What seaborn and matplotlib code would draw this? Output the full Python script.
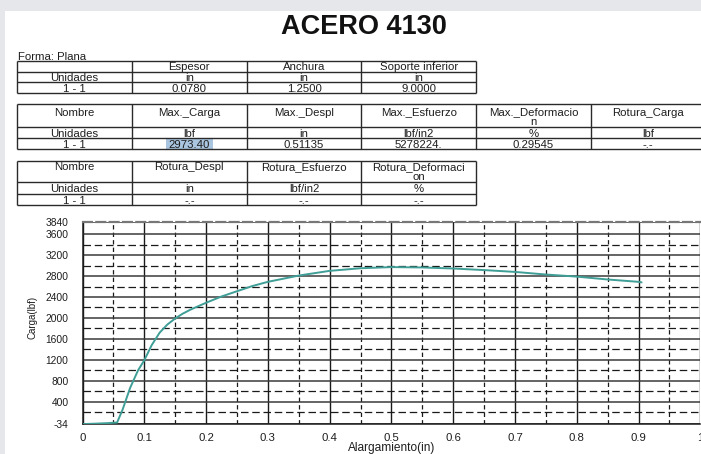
import matplotlib
matplotlib.use("Agg")
import matplotlib.pyplot as plt
import seaborn as sns
import pandas as pd
from matplotlib.patches import Rectangle
from matplotlib.ticker import FixedLocator

# ---------------- data ----------------
title = "ACERO 4130"
forma = "Forma: Plana"

t1_header = ["", "Espesor", "Anchura", "Soporte inferior"]
t1_units = ["Unidades", "in", "in", "in"]
t1_vals = ["1 - 1", "0.0780", "1.2500", "9.0000"]

t2_header = ["Nombre", "Max._Carga", "Max._Despl", "Max._Esfuerzo", "Max._Deformacio\nn", "Rotura_Carga"]
t2_units = ["Unidades", "lbf", "in", "lbf/in2", "%", "lbf"]
t2_vals = ["1 - 1", "2973.40", "0.51135", "5278224.", "0.29545", "-.-"]

t3_header = ["Nombre", "Rotura_Despl", "Rotura_Esfuerzo", "Rotura_Deformaci\non"]
t3_units = ["Unidades", "in", "lbf/in2", "%"]
t3_vals = ["1 - 1", "-.-", "-.-", "-.-"]

elong = [0.0, 0.02, 0.04, 0.056, 0.065, 0.077, 0.09, 0.10, 0.112, 0.125, 0.137,
         0.15, 0.162, 0.175, 0.20, 0.225, 0.25, 0.275, 0.30, 0.35, 0.40, 0.45,
         0.50, 0.55, 0.60, 0.65, 0.70, 0.75, 0.80, 0.85, 0.90, 0.905]
load = [-30, -22, -12, 0, 250, 660, 1000, 1190, 1480, 1720, 1870,
        1990, 2080, 2160, 2290, 2410, 2510, 2610, 2690, 2810, 2900, 2950,
        2972, 2965, 2945, 2915, 2880, 2830, 2790, 2735, 2690, 2680]

x_ticks = [0, 0.1, 0.2, 0.3, 0.4, 0.5, 0.6, 0.7, 0.8, 0.9, 1.0]
x_labels = ["0", "0.1", "0.2", "0.3", "0.4", "0.5", "0.6", "0.7", "0.8", "0.9", "1"]
y_ticks = [-34, 400, 800, 1200, 1600, 2000, 2400, 2800, 3200, 3600, 3840]
y_labels = ["-34", "400", "800", "1200", "1600", "2000", "2400", "2800", "3200", "3600", "3840"]

df = pd.DataFrame({"Alargamiento(in)": elong, "Carga(lbf)": load})

# ---------------- figure ----------------
sns.set_theme(style="white")
plt.rcParams["font.family"] = ["Liberation Sans", "DejaVu Sans"]

W, H = 701, 454
fig = plt.figure(figsize=(W / 100, H / 100), dpi=100)
fig.patch.set_facecolor("#e6e7ea")

ov = fig.add_axes([0, 0, 1, 1], zorder=0)
ov.set_xlim(0, W)
ov.set_ylim(H, 0)
ov.axis("off")
ov.add_patch(Rectangle((5, 11), W, H, facecolor="white", edgecolor="none"))

txtc = "#1e1e1e"
linec = "#2a2a2a"
fs_tab = 8.2
base_off = 4.0   # baseline offset below visual centre of capitals (px)
line_step = 9.2  # spacing of wrapped header lines (px)

ov.text(364, 26.5, title, ha="center", va="center", fontsize=19.5,
        fontweight="bold", color="#111111")
ov.text(18, 55.5 + base_off, forma, ha="left", va="baseline", fontsize=fs_tab, color=txtc)


def draw_table(x0, colw, ys, rows, centers, ncols):
    x1 = x0 + colw * ncols
    for y in ys:
        ov.plot([x0, x1], [y, y], color=linec, lw=1.0, solid_capstyle="butt")
    for i in range(ncols + 1):
        xx = x0 + colw * i
        ov.plot([xx, xx], [ys[0], ys[-1]], color=linec, lw=1.0, solid_capstyle="butt")
    for row, cy in zip(rows, centers):
        for j, t in enumerate(row):
            cx = x0 + colw * (j + 0.5)
            nl = t.count("\n")
            ov.text(cx, cy + base_off + nl * line_step, t, ha="center", va="baseline",
                    fontsize=fs_tab, color=txtc, linespacing=0.95,
                    multialignment="center")


colw = 114.7
x0 = 17.3
# highlight of selected cell
ov.add_patch(Rectangle((166, 139.3), 46.7, 10, facecolor="#a9c5df", edgecolor="none"))

draw_table(x0, colw, [61, 71.5, 82.3, 93.3],
           [t1_header, t1_units, t1_vals], [66.3, 77.0, 88.0], 4)
draw_table(x0, colw, [104.3, 127.3, 138.3, 149.3],
           [t2_header, t2_units, t2_vals], [111.5, 133.0, 144.0], 6)
draw_table(x0, colw, [160.7, 182.3, 194, 205],
           [t3_header, t3_units, t3_vals], [166.5, 188.3, 199.8], 4)

# ---------------- chart ----------------
left_px, right_px = 82.5, 700.3
top_px, bot_px = 221.7, 424.3
ax = fig.add_axes([left_px / W, (H - bot_px) / H,
                   (right_px - left_px) / W, (bot_px - top_px) / H], zorder=2)
ax.set_facecolor("white")

sns.lineplot(data=df, x="Alargamiento(in)", y="Carga(lbf)", ax=ax,
             color="#3f9e96", lw=1.4, zorder=5, sort=False)

ax.set_xlim(0, 1)
ax.set_ylim(-34, 3840)
ax.xaxis.set_major_locator(FixedLocator(x_ticks))
ax.set_xticklabels(x_labels)
ax.yaxis.set_major_locator(FixedLocator(y_ticks))
ax.set_yticklabels(y_labels)
ax.xaxis.set_minor_locator(FixedLocator([0.05 + 0.1 * i for i in range(10)]))
ax.yaxis.set_minor_locator(FixedLocator([200 + 400 * i for i in range(9)]))

ax.tick_params(axis="both", which="both", length=0)
ax.tick_params(axis="y", pad=10, labelsize=7.4, labelcolor=txtc)
ax.tick_params(axis="x", pad=6, labelsize=8.2, labelcolor=txtc)

ax.grid(True, which="major", axis="x", color="#1a1a1a", lw=1.0, ls="-")
ax.grid(True, which="major", axis="y", color="#3a3a3a", lw=1.1, ls="-")
ax.grid(True, which="minor", axis="x", color="#1a1a1a", lw=0.9, ls=(0, (3.5, 2.5)))
ax.grid(True, which="minor", axis="y", color="#1a1a1a", lw=0.9, ls=(0, (6, 3)))
ax.set_axisbelow(True)

for s in ["left", "bottom"]:
    ax.spines[s].set_color("#1a1a1a")
    ax.spines[s].set_linewidth(1.1)
ax.spines["right"].set_visible(False)
ax.spines["top"].set_color("#777777")
ax.spines["top"].set_linewidth(1.6)
ax.spines["top"].set_linestyle((0, (4, 2)))

ax.set_xlabel("Alargamiento(in)", fontsize=8.6, color=txtc)
ax.set_ylabel("Carga(lbf)", fontsize=7.0, color=txtc)
ax.xaxis.set_label_coords((392 - left_px) / (right_px - left_px), -0.085)
ax.yaxis.set_label_coords((38 - left_px) / (right_px - left_px), 0.525)

fig.savefig("out.png", dpi=100, facecolor=fig.get_facecolor())
